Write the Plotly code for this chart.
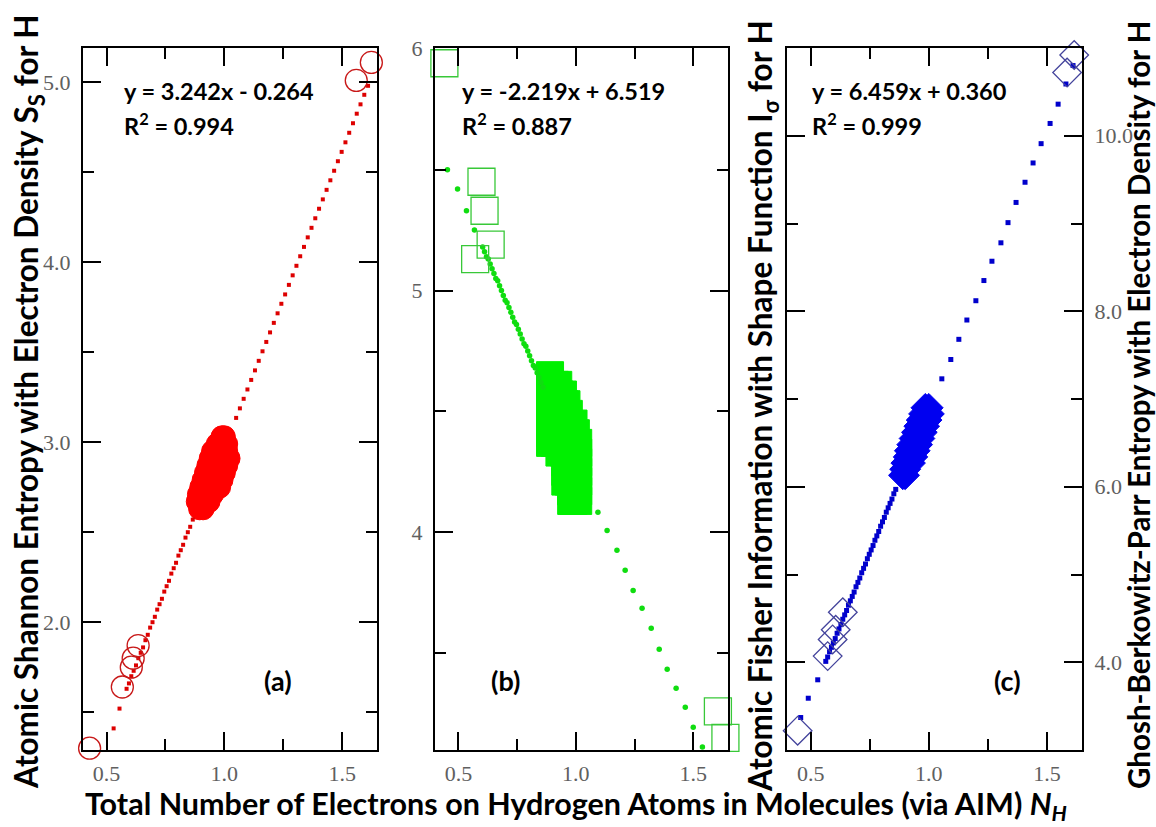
import plotly.graph_objects as go

W, H = 1156, 827

# ---------------- data ----------------
# panel (a): Shannon entropy S_S vs N_H
a_open_x = [0.428, 0.567, 0.605, 0.613, 0.634, 1.560, 1.624]
a_open_y = [1.30, 1.64, 1.75, 1.80, 1.87, 5.01, 5.11]
a_cluster_x = [0.99, 1.00,
               0.97, 0.99, 1.01,
               0.95, 0.97, 0.99, 1.01,
               0.94, 0.96, 0.98, 1.00, 1.02,
               0.93, 0.95, 0.97, 0.99, 1.01,
               0.92, 0.94, 0.96, 0.98, 1.00,
               0.91, 0.93, 0.95, 0.97, 0.99,
               0.90, 0.92, 0.94, 0.96, 0.98,
               0.89, 0.91, 0.93, 0.95,
               0.885, 0.90, 0.92, 0.935,
               0.895, 0.91]
a_cluster_y = [3.03, 3.03,
               2.99, 2.99, 2.99,
               2.95, 2.95, 2.95, 2.95,
               2.91, 2.91, 2.91, 2.91, 2.91,
               2.87, 2.87, 2.87, 2.87, 2.87,
               2.83, 2.83, 2.83, 2.83, 2.83,
               2.79, 2.79, 2.79, 2.79, 2.79,
               2.75, 2.75, 2.75, 2.75, 2.75,
               2.71, 2.71, 2.71, 2.71,
               2.67, 2.67, 2.67, 2.67,
               2.63, 2.63]
a_dot_x = [0.530, 0.555, 0.585, 0.595, 0.605, 0.615, 0.625, 0.635, 0.645, 0.655,
           0.665, 0.675, 0.685, 0.695, 0.705, 0.715, 0.725, 0.735, 0.745, 0.755,
           0.765, 0.775, 0.785, 0.795, 0.805, 0.815, 0.825, 0.835, 0.845, 0.855,
           0.866,
           1.050, 1.066, 1.082, 1.098, 1.114, 1.130, 1.146, 1.162, 1.178, 1.194,
           1.210, 1.226, 1.242, 1.258, 1.274, 1.290, 1.306, 1.322, 1.338, 1.354,
           1.370, 1.386, 1.402, 1.418, 1.434, 1.450, 1.466, 1.482, 1.498, 1.514,
           1.530, 1.546, 1.562, 1.578, 1.594, 1.610]
a_dot_y = [1.41, 1.52, 1.63, 1.66, 1.70, 1.73, 1.76, 1.80, 1.83, 1.86,
           1.90, 1.93, 1.97, 2.00, 2.03, 2.07, 2.10, 2.13, 2.17, 2.20,
           2.23, 2.27, 2.30, 2.33, 2.37, 2.40, 2.43, 2.47, 2.50, 2.53,
           2.57,
           3.135, 3.188, 3.241, 3.293, 3.346, 3.399, 3.452, 3.505, 3.557, 3.610,
           3.663, 3.716, 3.769, 3.821, 3.874, 3.927, 3.980, 4.033, 4.085, 4.138,
           4.191, 4.244, 4.297, 4.349, 4.402, 4.455, 4.508, 4.561, 4.613, 4.666,
           4.719, 4.772, 4.825, 4.877, 4.930, 4.980]

# panel (b): Fisher information I_sigma vs N_H
b_open_x = [0.440, 0.598, 0.611, 0.637, 0.571, 1.605, 1.637]
b_open_y = [5.94, 5.45, 5.33, 5.19, 5.13, 3.26, 3.15]
b_cluster_x = [0.89,
               0.89, 0.91, 0.925,
               0.89, 0.91, 0.93, 0.945,
               0.89, 0.91, 0.93, 0.95, 0.96,
               0.89, 0.91, 0.93, 0.95, 0.97,
               0.89, 0.91, 0.93, 0.95, 0.97, 0.99,
               0.89, 0.91, 0.93, 0.95, 0.97, 0.99, 1.00,
               0.89, 0.91, 0.93, 0.95, 0.97, 0.99, 1.01,
               0.93, 0.95, 0.97, 0.99, 1.01,
               0.955, 0.97, 0.99, 1.01,
               0.955, 0.97, 0.99, 1.01,
               0.955, 0.97, 0.99, 1.01,
               0.98, 0.99, 1.01,
               0.98, 0.99, 1.01]
b_cluster_y = [4.65,
               4.61, 4.61, 4.61,
               4.57, 4.57, 4.57, 4.57,
               4.53, 4.53, 4.53, 4.53, 4.53,
               4.49, 4.49, 4.49, 4.49, 4.49,
               4.45, 4.45, 4.45, 4.45, 4.45, 4.45,
               4.41, 4.41, 4.41, 4.41, 4.41, 4.41, 4.41,
               4.37, 4.37, 4.37, 4.37, 4.37, 4.37, 4.37,
               4.33, 4.33, 4.33, 4.33, 4.33,
               4.29, 4.29, 4.29, 4.29,
               4.25, 4.25, 4.25, 4.25,
               4.21, 4.21, 4.21, 4.21,
               4.17, 4.17, 4.17,
               4.13, 4.13, 4.13]
b_dot_x = [0.453, 0.496, 0.534, 0.568,
           0.603, 0.611, 0.619, 0.627, 0.635, 0.643, 0.651, 0.659, 0.667, 0.675,
           0.683, 0.691, 0.699, 0.707, 0.715, 0.723, 0.731, 0.739, 0.747, 0.755,
           0.763, 0.771, 0.779, 0.787, 0.795, 0.803, 0.811, 0.819, 0.827, 0.835,
           0.843, 0.851, 0.860,
           1.094, 1.133, 1.175, 1.210, 1.244, 1.282, 1.321, 1.355, 1.389, 1.427,
           1.466, 1.500, 1.539]
b_dot_y = [5.50, 5.42, 5.33, 5.25,
           5.18, 5.16, 5.14, 5.13, 5.11, 5.09, 5.07, 5.05, 5.04, 5.02,
           5.00, 4.98, 4.96, 4.95, 4.93, 4.91, 4.89, 4.87, 4.86, 4.84,
           4.82, 4.80, 4.78, 4.77, 4.75, 4.73, 4.71, 4.69, 4.68, 4.66,
           4.64, 4.62, 4.60,
           4.083, 4.008, 3.926, 3.843, 3.760, 3.686, 3.603, 3.517, 3.434, 3.355,
           3.277, 3.194, 3.112]

# panel (c): Ghosh-Berkowitz-Parr entropy vs N_H
c_open_x = [0.445, 0.572, 0.593, 0.606, 0.636, 1.585, 1.615]
c_open_y = [3.22, 4.07, 4.26, 4.37, 4.57, 10.72, 10.92]
c_cluster_x = [0.985, 1.000,
               0.975, 0.990, 1.005,
               0.965, 0.980, 0.995,
               0.955, 0.970, 0.985,
               0.945, 0.960, 0.975,
               0.935, 0.950, 0.965,
               0.925, 0.940, 0.955,
               0.915, 0.930, 0.945,
               0.910, 0.925, 0.935,
               0.900, 0.915, 0.925,
               0.895, 0.905,
               0.890, 0.900]
c_cluster_y = [6.90, 6.90,
               6.83, 6.83, 6.83,
               6.76, 6.76, 6.76,
               6.69, 6.69, 6.69,
               6.62, 6.62, 6.62,
               6.55, 6.55, 6.55,
               6.48, 6.48, 6.48,
               6.41, 6.41, 6.41,
               6.34, 6.34, 6.34,
               6.27, 6.27, 6.27,
               6.20, 6.20,
               6.13, 6.13]
c_dot_x = [0.458, 0.490, 0.530,
           0.564, 0.572, 0.580, 0.588, 0.596, 0.604, 0.612, 0.620, 0.628, 0.636,
           0.644, 0.652, 0.660, 0.668, 0.676, 0.684, 0.692, 0.700, 0.708, 0.716,
           0.724, 0.732, 0.740, 0.748, 0.756, 0.764, 0.772, 0.780, 0.788, 0.796,
           0.804, 0.812, 0.820, 0.828, 0.836, 0.844, 0.852, 0.860,
           1.055, 1.093, 1.127, 1.161, 1.199, 1.233, 1.267, 1.305, 1.335, 1.369,
           1.407, 1.441, 1.475, 1.513, 1.547, 1.580, 1.610]
c_dot_y = [3.37, 3.59, 3.80,
           4.01, 4.06, 4.12, 4.17, 4.22, 4.27, 4.33, 4.38, 4.43, 4.49,
           4.54, 4.59, 4.65, 4.70, 4.75, 4.80, 4.86, 4.91, 4.96, 5.02,
           5.07, 5.12, 5.18, 5.23, 5.28, 5.33, 5.39, 5.44, 5.49, 5.55,
           5.60, 5.65, 5.71, 5.76, 5.81, 5.86, 5.92, 5.97,
           7.23, 7.45, 7.68, 7.90, 8.12, 8.35, 8.57, 8.78, 9.01, 9.24,
           9.47, 9.69, 9.91, 10.14, 10.36, 10.59, 10.80]

x_ticks = [0.5, 1.0, 1.5]
fits = ["y = 3.242x - 0.264", "y = -2.219x + 6.519", "y = 6.459x + 0.360"]
r2 = ["0.994", "0.887", "0.999"]
panel_tags = ["(a)", "(b)", "(c)"]
y_titles = ["Atomic Shannon Entropy with Electron Density S<sub>S</sub> for H",
            "Atomic Fisher Information with Shape Function I<sub>\u03c3</sub> for H",
            "Ghosh-Berkowitz-Parr Entropy with Electron Density for H"]
x_title = "Total Number of Electrons on Hydrogen Atoms in Molecules (via AIM) <i>N<sub>H</sub></i>"

# ---------------- figure ----------------
fig = go.Figure()

def px_x(p):
    return p / W

def px_y(p):
    return 1 - p / H

panels = [
    dict(ax="x", ay="y", open=(a_open_x, a_open_y), cl=(a_cluster_x, a_cluster_y),
         dots=(a_dot_x, a_dot_y), sym="circle", osize=22, ocol="#c81818",
         fill="#ff0000", dcol="#dd0000", dsym="square", dsize=4),
    dict(ax="x2", ay="y2", open=(b_open_x, b_open_y), cl=(b_cluster_x, b_cluster_y),
         dots=(b_dot_x, b_dot_y), sym="square", osize=27, ocol="#38c838",
         fill="#00f000", dcol="#10dd10", dsym="circle", dsize=5.5),
    dict(ax="x3", ay="y3", open=(c_open_x, c_open_y), cl=(c_cluster_x, c_cluster_y),
         dots=(c_dot_x, c_dot_y), sym="diamond", osize=22, ocol="#44449c",
         fill="#0000f0", dcol="#0000cc", dsym="square", dsize=5),
]

for p in panels:
    fig.add_trace(go.Scatter(x=p["cl"][0], y=p["cl"][1], xaxis=p["ax"], yaxis=p["ay"],
                             mode="markers", cliponaxis=False, showlegend=False,
                             marker=dict(symbol=p["sym"], size=p["osize"], color=p["fill"],
                                         line=dict(color=p["fill"], width=1))))
    fig.add_trace(go.Scatter(x=p["dots"][0], y=p["dots"][1], xaxis=p["ax"], yaxis=p["ay"],
                             mode="markers", cliponaxis=False, showlegend=False,
                             marker=dict(symbol=p["dsym"], size=p["dsize"], color=p["dcol"],
                                         line=dict(width=0))))
    fig.add_trace(go.Scatter(x=p["open"][0], y=p["open"][1], xaxis=p["ax"], yaxis=p["ay"],
                             mode="markers", cliponaxis=False, showlegend=False,
                             marker=dict(symbol=p["sym"] + "-open", size=p["osize"],
                                         color=p["ocol"], line=dict(color=p["ocol"], width=1.3))))

tickfont = dict(family="Liberation Serif", size=22, color="#606060")
x_domains = [[83 / W, 377 / W], [435 / W, 728 / W], [787 / W, 1082 / W]]
y_dom = [1 - 750 / H, 1 - 48 / H]

common_x = dict(range=[0.40, 1.648], tickvals=x_ticks, ticktext=["0.5", "1.0", "1.5"],
                ticks="inside", ticklen=18, tickwidth=2, tickcolor="black",
                showline=True, linecolor="black", linewidth=2, mirror="allticks",
                showgrid=False, zeroline=False, tickfont=tickfont, ticklabelstandoff=3,
                minor=dict(tickvals=[0.75, 1.25], ticks="inside", ticklen=11,
                           tickwidth=2, tickcolor="black", showgrid=False),
                automargin=False)

layout = dict(width=W, height=H, margin=dict(l=0, r=0, t=0, b=0),
              paper_bgcolor="white", plot_bgcolor="white", showlegend=False)
for i, dom in enumerate(x_domains):
    key = "xaxis" if i == 0 else f"xaxis{i+1}"
    d = dict(common_x)
    d["domain"] = dom
    d["anchor"] = "y" if i == 0 else f"y{i+1}"
    layout[key] = d

common_y = dict(ticks="inside", ticklen=18, tickwidth=2, tickcolor="black",
                showline=True, linecolor="black", linewidth=2, mirror="allticks",
                showgrid=False, zeroline=False, tickfont=tickfont, ticklabelstandoff=6,
                domain=y_dom, automargin=False)
ya = dict(common_y, range=[1.29, 5.19], tickvals=[2, 3, 4, 5],
          ticktext=["2.0", "3.0", "4.0", "5.0"], anchor="x",
          minor=dict(tickvals=[1.5, 2.5, 3.5, 4.5], ticks="inside", ticklen=11,
                     tickwidth=2, tickcolor="black", showgrid=False))
yb = dict(common_y, range=[3.1, 6.003], tickvals=[4, 5, 6], ticktext=["4", "5", "6"],
          anchor="x2",
          minor=dict(tickvals=[3.5, 4.5, 5.5], ticks="inside", ticklen=11,
                     tickwidth=2, tickcolor="black", showgrid=False))
yc = dict(common_y, range=[3.0, 11.0], tickvals=[4, 6, 8, 10],
          ticktext=["4.0", "6.0", "8.0", "10.0"], anchor="x3", side="right",
          minor=dict(tickvals=[5, 7, 9], ticks="inside", ticklen=11,
                     tickwidth=2, tickcolor="black", showgrid=False))
layout["yaxis"] = ya
layout["yaxis2"] = yb
layout["yaxis3"] = yc

fig.update_layout(**layout)

bold = dict(family="Lato", size=23.5, color="black")
eq_left = [122, 460, 810]
tag_center = [278, 505, 1007]
annotations = []
for i in range(3):
    annotations.append(dict(x=px_x(eq_left[i]), y=px_y(91), xref="paper", yref="paper",
                            text="<b>" + fits[i] + "</b>", showarrow=False,
                            xanchor="left", yanchor="middle", font=bold))
    annotations.append(dict(x=px_x(eq_left[i]), y=px_y(124), xref="paper", yref="paper",
                            text="<b>R<sup>2</sup> = " + r2[i] + "</b>", showarrow=False,
                            xanchor="left", yanchor="middle", font=bold))
    annotations.append(dict(x=px_x(tag_center[i]), y=px_y(680), xref="paper", yref="paper",
                            text="<b>" + panel_tags[i] + "</b>", showarrow=False,
                            xanchor="center", yanchor="middle",
                            font=dict(family="Lato", size=27, color="black")))

for xc, yc_, t, fs in [(29, 402, y_titles[0], 31.5), (763, 406, y_titles[1], 31.5),
                       (1138, 405, y_titles[2], 29.5)]:
    annotations.append(dict(x=px_x(xc), y=px_y(yc_), xref="paper", yref="paper",
                            text="<b>" + t + "</b>", showarrow=False, textangle=-90,
                            xanchor="center", yanchor="middle",
                            font=dict(family="Lato", size=fs, color="black")))
annotations.append(dict(x=px_x(576), y=px_y(805), xref="paper", yref="paper",
                        text="<b>" + x_title + "</b>", showarrow=False,
                        xanchor="center", yanchor="middle",
                        font=dict(family="Lato", size=30.5, color="black")))
fig.update_layout(annotations=annotations)

fig.write_html("out.html")
